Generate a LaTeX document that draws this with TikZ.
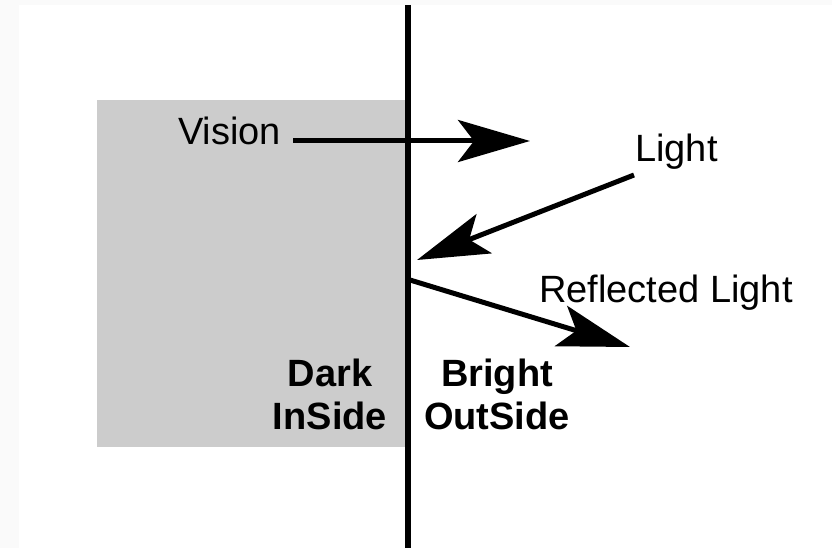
\documentclass[tikz,border=0pt]{standalone}
\usepackage{fontspec}
\setmainfont{Liberation Sans}
\usetikzlibrary{arrows.meta}
\begin{document}
\begin{tikzpicture}[x=1pt,y=-1pt,
  lbl/.style={inner sep=0pt,font=\fontsize{38}{43}\selectfont},
  sidelbl/.style={inner sep=0pt,align=center,font=\fontsize{38}{43}\selectfont\bfseries},
  ray/.style={line width=5pt,-{Stealth[length=72pt,width=42pt,inset=16pt]}}]
\useasboundingbox (0,0) rectangle (832,548);
\fill[black!2] (0,0) rectangle (832,548);
\fill[white] (19,5) rectangle (832,548);
\fill[black!20] (97,100) rectangle (405,447);
% wall
\coordinate (walltop) at (408,5);
\coordinate (wallbot) at (408,548);
\draw[line width=6.5pt] (walltop) -- (wallbot);
% labels
\node[lbl,anchor=base west] (vision) at (178,145) {Vision};
\node[lbl,anchor=base west] (light) at (635,162) {Light};
\node[lbl,anchor=base west] (refl) at (539,302) {Reflected Light};
\node[sidelbl] (inside) at (330,394) {Dark\\InSide};
\node[sidelbl] (outside) at (497,394) {Bright\\OutSide};
% rays
\coordinate (vstart) at (293,141);
\coordinate (vend) at (530,141);
\coordinate (lstart) at (634,175);
\coordinate (lend) at (417,260);
\coordinate (rstart) at (410,280);
\coordinate (rend) at (630,347);
\draw[ray] (vstart) -- (vend);
\draw[ray] (lstart) -- (lend);
\draw[ray] (rstart) -- (rend);
\end{tikzpicture}
\end{document}
